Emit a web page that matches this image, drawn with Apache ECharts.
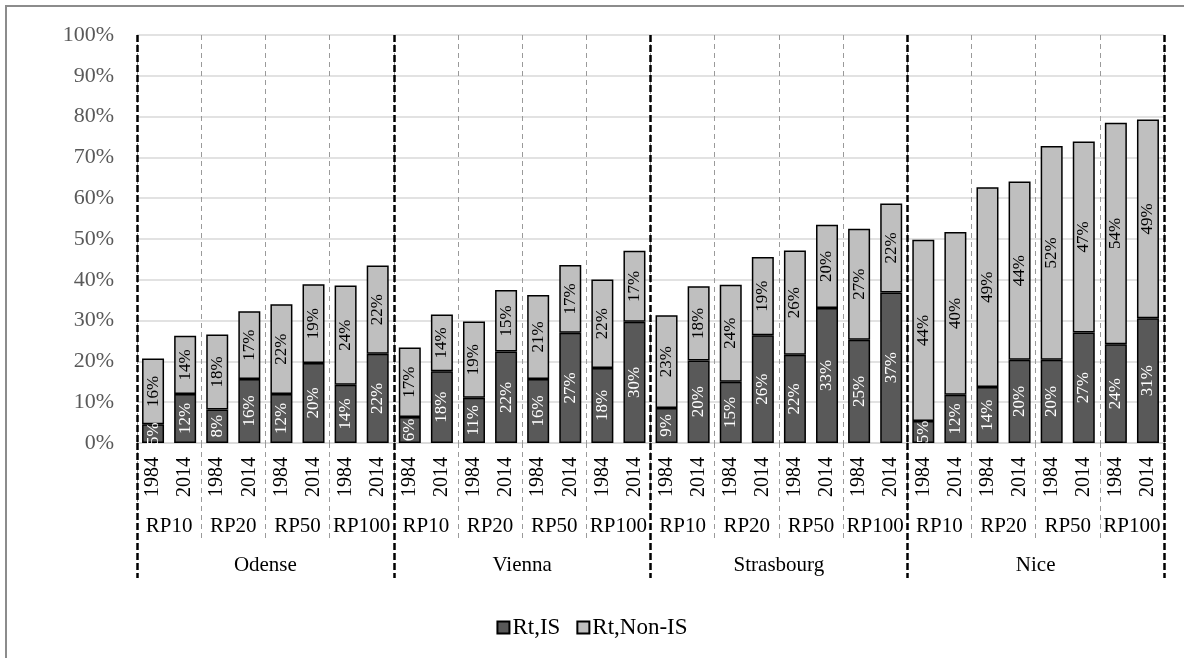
<!DOCTYPE html>
<html>
<head>
<meta charset="utf-8">
<script src="https://cdn.jsdelivr.net/npm/echarts@6/dist/echarts.min.js"></script>
<style>html,body{margin:0;padding:0;background:#fff}#c{width:1184px;height:658px}</style>
</head>
<body>
<div id="c"></div>
<script>
var cities = ['Odense', 'Vienna', 'Strasbourg', 'Nice'];
var rps = ['RP10', 'RP20', 'RP50', 'RP100'];
var years = ['1984', '2014'];
var yTicks = [0, 10, 20, 30, 40, 50, 60, 70, 80, 90, 100];
var seriesNames = ['Rt,IS', 'Rt,Non-IS'];
var isVals = [
  4.6, 12.0, 8.2, 15.7, 12.0, 19.6, 14.3, 21.9,
  6.4, 17.6, 11.1, 22.4, 15.7, 27.0, 18.4, 29.7,
  8.6, 20.2, 15.0, 26.4, 21.6, 33.1, 25.3, 36.9,
  5.4, 11.8, 13.7, 20.4, 20.4, 27.1, 24.2, 30.6
];
var nonIsVals = [
  16.1, 14.3, 18.4, 16.6, 22.0, 19.3, 24.3, 21.6,
  17.0, 13.9, 18.7, 15.1, 20.6, 16.6, 21.7, 17.4,
  22.7, 18.2, 23.8, 19.2, 25.6, 20.4, 27.2, 21.8,
  44.4, 39.9, 49.0, 43.7, 52.4, 46.8, 54.3, 48.7
];

var FONT = "'Liberation Serif', 'Times New Roman', serif";
var yearCats = [], rpCats = [];
cities.forEach(function (c) {
  rps.forEach(function (r) {
    rpCats.push(c + '|' + r);
    years.forEach(function (y) { yearCats.push(c + '|' + r + '|' + y); });
  });
});
function lastPart(v) { var p = v.split('|'); return p[p.length - 1]; }

var chart = echarts.init(document.getElementById('c'));
var labelFmt = function (p) { return Math.round(p.value) + '%'; };
chart.setOption({
  animation: false,
  backgroundColor: '#fff',
  graphic: [{
    type: 'rect', shape: { x: 6, y: 6, width: 1300, height: 800 },
    style: { fill: 'none', stroke: '#8c8c8c', lineWidth: 2 }, silent: true, z: -10
  }],
  grid: { left: 137, right: 20, top: 35, bottom: 215 },
  legend: {
    data: seriesNames, bottom: 14, left: 'center', icon: 'rect',
    itemWidth: 12, itemHeight: 12, itemGap: 16,
    textStyle: { fontFamily: FONT, fontSize: 23, color: '#000', padding: [0, 0, 0, -2] }
  },
  yAxis: {
    type: 'value', min: yTicks[0], max: yTicks[yTicks.length - 1], interval: 10,
    axisLine: { show: false }, axisTick: { show: false },
    axisLabel: { formatter: '{value}%', fontFamily: FONT, fontSize: 22, color: '#595959', margin: 23 },
    splitLine: { lineStyle: { color: '#d9d9d9', width: 1.5 } }
  },
  xAxis: [
    {
      type: 'category', data: yearCats, position: 'bottom',
      axisLine: { show: true, lineStyle: { color: '#d9d9d9', width: 1.5 } },
      axisTick: { show: false },
      axisLabel: { interval: 0, rotate: 90, formatter: lastPart, fontFamily: FONT, fontSize: 20, color: '#000', margin: 14 },
      splitLine: { show: false }
    },
    {
      type: 'category', data: rpCats, position: 'bottom', z: 2,
      axisLine: { show: false },
      axisTick: { show: true, interval: 0, length: 95, lineStyle: { color: '#9a9a9a', width: 1, type: [5, 4] } },
      axisLabel: { interval: 0, formatter: lastPart, fontFamily: FONT, fontSize: 21, color: '#000', margin: 73 },
      splitLine: { show: true, interval: 0, lineStyle: { color: '#9a9a9a', width: 1, type: [5, 4] } }
    },
    {
      type: 'category', data: cities, position: 'bottom', z: 4,
      axisLine: { show: false },
      axisTick: { show: true, interval: 0, length: 135, lineStyle: { color: '#000', width: 2.5, type: [7, 3] } },
      axisLabel: { interval: 0, fontFamily: FONT, fontSize: 21, color: '#000', margin: 112 },
      splitLine: { show: true, interval: 0, lineStyle: { color: '#000', width: 2.5, type: [7, 3] } }
    }
  ],
  series: [
    {
      name: seriesNames[0], type: 'bar', stack: 'total', xAxisIndex: 0, data: isVals, barWidth: 22,
      itemStyle: { color: '#595959', borderColor: '#000', borderWidth: 1.5 },
      label: { show: true, position: 'inside', rotate: 90, formatter: labelFmt, fontFamily: FONT, fontSize: 17, color: '#fff' }
    },
    {
      name: seriesNames[1], type: 'bar', stack: 'total', xAxisIndex: 0, data: nonIsVals, barWidth: 22,
      itemStyle: { color: '#bfbfbf', borderColor: '#000', borderWidth: 1.5 },
      label: { show: true, position: 'inside', rotate: 90, formatter: labelFmt, fontFamily: FONT, fontSize: 17, color: '#000' }
    }
  ]
});
</script>
</body>
</html>
